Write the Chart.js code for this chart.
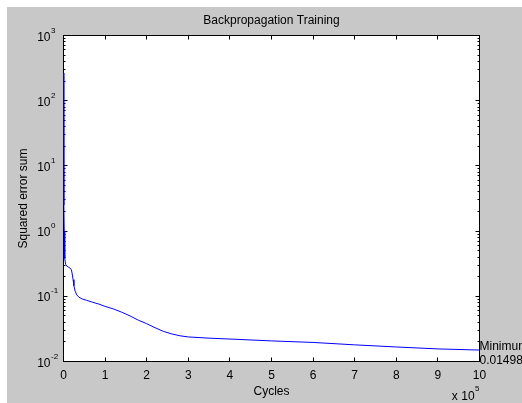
<!DOCTYPE html>
<html>
<head>
<meta charset="utf-8">
<script src="https://cdn.jsdelivr.net/npm/chart.js@4.4.0/dist/chart.umd.min.js"></script>
<style>
    html, body { margin: 0; padding: 0; background: #ffffff; }
    #wrap { position: absolute; left: 7px; top: 7px; width: 515px; height: 396px; background: #c8c8c8; }
</style>
</head>
<body>
<div id="wrap"><canvas id="trainChart" width="515" height="396"></canvas></div>
<script>
// cycles are in units of 10^5
var Cycles = [0, 0.004, 0.008, 0.012, 0.018, 0.025, 0.035, 0.05, 0.08, 0.12, 0.16, 0.19, 0.21, 0.23, 0.25, 0.28, 0.32, 0.37, 0.45, 0.55, 0.7, 0.85, 1.0, 1.2, 1.4, 1.6, 1.8, 2.0, 2.2, 2.4, 2.6, 2.8, 3.0, 3.5, 4.0, 5.0, 6.0, 7.0, 8.0, 9.0, 10.0];
var ErrorSum = [266, 40, 8, 2.5, 1.0, 0.55, 0.38, 0.31, 0.29, 0.28, 0.27, 0.255, 0.22, 0.18, 0.145, 0.12, 0.105, 0.097, 0.091, 0.087, 0.081, 0.076, 0.070, 0.064, 0.057, 0.050, 0.043, 0.038, 0.033, 0.029, 0.0265, 0.0248, 0.0238, 0.0228, 0.0221, 0.0207, 0.0196, 0.0180, 0.0167, 0.0156, 0.01498];
var XTicks = [0, 1, 2, 3, 4, 5, 6, 7, 8, 9, 10];
var YDecades = [-2, -1, 0, 1, 2, 3];
var XExponent = '5';
var MinLabel = 'Minimum';
var MinValue = '0.01498';

var Points = [];
Cycles.forEach(function (c, i) {
    Points.push({ x: c, y: ErrorSum[i] });
});

var FONT = '"Liberation Sans", Arial, sans-serif';

// matlab style box, inward ticks, 10^n labels and the minimum note
var matlabAxes = {
    id: 'matlabAxes',
    beforeDraw: function (chart) {
        var a = chart.chartArea, ctx = chart.ctx;
        ctx.save();
        ctx.fillStyle = '#ffffff';
        ctx.fillRect(a.left, a.top, a.right - a.left, a.bottom - a.top);
        ctx.restore();
    },
    beforeDatasetsDraw: function (chart) {
        var a = chart.chartArea, ctx = chart.ctx;
        var xs = chart.scales.x, ys = chart.scales.y;
        ctx.save();
        ctx.strokeStyle = '#000000';
        ctx.lineWidth = 1;
        ctx.strokeRect(a.left, a.top, a.right - a.left, a.bottom - a.top);
        ctx.beginPath();
        XTicks.forEach(function (v) {
            var px = Math.floor(xs.getPixelForValue(v)) + 0.5;
            ctx.moveTo(px, a.bottom); ctx.lineTo(px, a.bottom - 4);
            ctx.moveTo(px, a.top); ctx.lineTo(px, a.top + 4);
        });
        YDecades.forEach(function (k, i) {
            var base = Math.pow(10, k);
            var py = Math.floor(ys.getPixelForValue(base)) + 0.5;
            ctx.moveTo(a.left, py); ctx.lineTo(a.left + 4, py);
            ctx.moveTo(a.right, py); ctx.lineTo(a.right - 4, py);
            if (i < YDecades.length - 1) {
                for (var m = 2; m <= 9; m++) {
                    var my = Math.floor(ys.getPixelForValue(m * base)) + 0.5;
                    ctx.moveTo(a.left, my); ctx.lineTo(a.left + 2, my);
                    ctx.moveTo(a.right, my); ctx.lineTo(a.right - 2, my);
                }
            }
        });
        ctx.stroke();
        ctx.restore();
    },
    afterDraw: function (chart) {
        var a = chart.chartArea, ctx = chart.ctx;
        var xs = chart.scales.x, ys = chart.scales.y;
        ctx.save();
        ctx.fillStyle = '#000000';
        ctx.textBaseline = 'alphabetic';
        YDecades.forEach(function (k) {
            var py = ys.getPixelForValue(Math.pow(10, k));
            ctx.font = '12px ' + FONT;
            ctx.textAlign = 'right';
            ctx.fillText('10', a.left - 13, py + 5);
            ctx.font = '8px ' + FONT;
            ctx.textAlign = 'left';
            ctx.fillText(String(k), a.left - 12.5, py - 3);
        });
        // x 10^5 under the right end
        ctx.font = '8px ' + FONT;
        ctx.textAlign = 'right';
        ctx.fillText(XExponent, a.right, 384);
        var ew = ctx.measureText(XExponent).width;
        ctx.font = '12px ' + FONT;
        ctx.fillText('x 10', a.right - ew - 0.5, 393);
        // minimum note at the last point
        var lx = xs.getPixelForValue(Cycles[Cycles.length - 1]);
        var ly = ys.getPixelForValue(ErrorSum[ErrorSum.length - 1]);
        ctx.textAlign = 'left';
        ctx.textBaseline = 'middle';
        ctx.fillText(MinLabel, lx, ly - 3);
        ctx.fillText(MinValue, lx, ly + 11);
        ctx.restore();
    }
};

var ctx = document.getElementById('trainChart').getContext('2d');
var trainChart = new Chart(ctx, {
    type: 'line',
    data: {
        datasets: [{
            label: 'Squared error sum',
            data: Points,
            borderColor: '#0000ff',
            backgroundColor: '#0000ff',
            borderWidth: 1,
            pointRadius: 0,
            tension: 0,
            fill: false
        }]
    },
    options: {
        responsive: false,
        animation: false,
        devicePixelRatio: 1,
        layout: {
            padding: { left: 0, right: 42.5, top: 0, bottom: 0 }
        },
        plugins: {
            legend: { display: false },
            tooltip: { enabled: false },
            title: {
                display: true,
                fullSize: false,
                text: 'Backpropagation Training',
                color: '#000000',
                font: { family: FONT, size: 12, weight: 'normal', lineHeight: 1.2 },
                padding: { top: 6.5, bottom: 7.6 }
            }
        },
        scales: {
            x: {
                type: 'linear',
                min: 0,
                max: 10,
                grid: { display: false, drawTicks: false },
                border: { display: false },
                ticks: {
                    stepSize: 1,
                    color: '#000000',
                    padding: 7,
                    maxRotation: 0,
                    font: { family: FONT, size: 12 }
                },
                title: {
                    display: true,
                    text: 'Cycles',
                    color: '#000000',
                    font: { family: FONT, size: 12 },
                    padding: { top: 0, bottom: 4 }
                },
                afterFit: function (scale) { scale.height = 41.5; }
            },
            y: {
                type: 'logarithmic',
                min: 0.01,
                max: 1000,
                grid: { display: false, drawTicks: false },
                border: { display: false },
                ticks: { display: false },
                title: {
                    display: true,
                    text: 'Squared error sum',
                    color: '#000000',
                    font: { family: FONT, size: 12 },
                    padding: { top: 9, bottom: 0 }
                },
                afterFit: function (scale) { scale.width = 56.5; }
            }
        }
    },
    plugins: [matlabAxes]
});
</script>
</body>
</html>
